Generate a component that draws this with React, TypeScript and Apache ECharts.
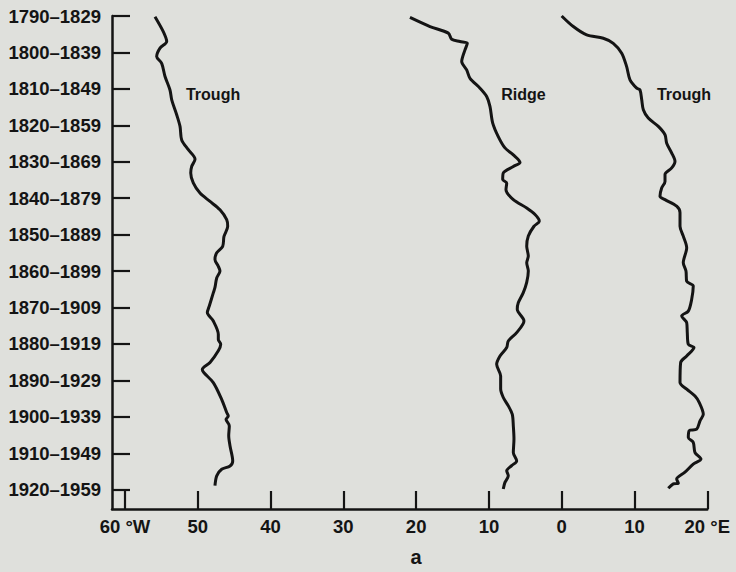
import React, { useEffect, useRef } from "react";
import * as echarts from "echarts";

const periods = [
  "1790–1829", "1800–1839", "1810–1849", "1820–1859", "1830–1869",
  "1840–1879", "1850–1889", "1860–1899", "1870–1909", "1880–1919",
  "1890–1929", "1900–1939", "1910–1949", "1920–1959",
];

const lonTicks = [-60, -50, -40, -30, -20, -10, 0, 10, 20];

// [longitude (negative = W, positive = E), position along period axis]
const westTrough: [number, number][] = [
  [-55.88, 0.02], [-54.74, 0.43], [-54.27, 0.7], [-55.19, 0.88], [-55.65, 1.11],
  [-54.96, 1.3], [-54.5, 1.66], [-53.82, 2.03], [-53.58, 2.3], [-52.9, 2.71],
  [-52.44, 3.03], [-52.21, 3.4], [-51.3, 3.67], [-50.38, 3.93], [-50.84, 4.13],
  [-50.97, 4.31], [-50.62, 4.58], [-49.7, 4.86], [-48.32, 5.09], [-46.95, 5.32],
  [-46.03, 5.59], [-45.89, 5.77], [-46.4, 6.05], [-46.58, 6.32], [-47.4, 6.5],
  [-47.64, 6.68], [-47.18, 6.87], [-46.95, 7.0], [-47.4, 7.19], [-47.64, 7.45],
  [-47.87, 7.6], [-48.42, 7.96], [-48.69, 8.14], [-47.87, 8.37], [-47.18, 8.74],
  [-47.18, 8.88], [-46.85, 9.01], [-47.18, 9.19], [-48.32, 9.51], [-49.38, 9.7],
  [-49.15, 9.79], [-47.87, 10.06], [-46.72, 10.52], [-46.03, 10.88], [-45.81, 10.98],
  [-46.12, 11.07], [-45.67, 11.25], [-45.75, 11.52], [-45.57, 11.8], [-45.2, 12.21],
  [-45.57, 12.35], [-46.72, 12.44], [-47.4, 12.62], [-47.64, 12.89],
];

const ridge: [number, number][] = [
  [-20.85, 0.04], [-18.1, 0.29], [-15.58, 0.47], [-15.12, 0.64], [-13.98, 0.7],
  [-12.97, 0.75], [-13.29, 0.93], [-13.74, 1.25], [-13.06, 1.48], [-12.6, 1.71],
  [-11.23, 1.98], [-10.31, 2.21], [-9.86, 2.48], [-9.48, 2.94], [-8.72, 3.31],
  [-7.8, 3.62], [-6.65, 3.81], [-5.73, 4.02], [-6.65, 4.13], [-8.03, 4.31],
  [-8.11, 4.49], [-7.56, 4.58], [-7.66, 4.77], [-6.65, 5.04], [-4.81, 5.27],
  [-3.67, 5.45], [-3.08, 5.63], [-3.81, 5.77], [-4.59, 6.04], [-4.81, 6.32],
  [-4.59, 6.59], [-4.81, 6.77], [-4.59, 7.0], [-4.81, 7.31], [-5.28, 7.59],
  [-5.97, 7.87], [-6.11, 8.05], [-5.19, 8.37], [-6.19, 8.69], [-7.34, 8.92],
  [-7.56, 9.1], [-8.48, 9.33], [-8.94, 9.56], [-8.39, 9.88], [-8.39, 10.24],
  [-8.03, 10.47], [-7.34, 10.7], [-6.79, 10.93], [-6.65, 11.25], [-6.56, 11.61],
  [-6.65, 11.98], [-6.19, 12.21], [-6.88, 12.34], [-7.56, 12.48], [-7.34, 12.62],
  [-7.8, 12.8], [-8.03, 12.98],
];

const eastTrough: [number, number][] = [
  [-0.01, 0.0], [1.59, 0.29], [3.43, 0.52], [5.71, 0.61], [7.08, 0.75],
  [8.24, 1.02], [8.92, 1.39], [9.38, 1.75], [10.3, 1.98], [10.75, 2.03],
  [10.99, 2.3], [11.21, 2.57], [11.89, 2.8], [13.27, 3.03], [14.19, 3.26],
  [14.42, 3.49], [15.11, 3.76], [15.56, 3.99], [15.11, 4.17], [14.19, 4.35],
  [14.19, 4.54], [13.73, 4.72], [13.5, 4.95], [14.19, 5.04], [15.79, 5.22],
  [16.25, 5.4], [16.25, 5.77], [16.7, 6.04], [17.17, 6.36], [16.7, 6.77],
  [17.07, 7.0], [17.17, 7.28], [18.07, 7.41], [17.85, 7.78], [17.39, 8.1],
  [16.48, 8.23], [17.17, 8.42], [17.25, 8.69], [17.39, 9.01], [18.17, 9.1],
  [17.17, 9.33], [16.34, 9.51], [16.25, 10.06], [17.17, 10.24], [18.31, 10.43],
  [18.9, 10.61], [19.45, 10.93], [19.0, 11.11], [18.54, 11.34], [17.52, 11.38],
  [17.39, 11.57], [18.07, 11.7], [18.31, 11.98], [19.13, 12.16], [18.07, 12.3],
  [16.93, 12.52], [15.79, 12.71], [16.02, 12.82], [15.33, 12.84], [14.64, 12.96],
];

const labelTexts = ["Trough", "Ridge", "Trough"];
const labelCoords: [number, number][] = [[-47.9, 2.16], [-5.25, 2.16], [16.8, 2.16]];

const INK = "#141414";
const FONT = "'Liberation Sans', Arial, Helvetica, sans-serif";

function lonLabel(v: number): string {
  if (v === -60) return "60 °W";
  if (v === 20) return "20 °E";
  return String(Math.abs(v));
}

export default function App() {
  const ref = useRef<HTMLDivElement>(null);

  useEffect(() => {
    if (!ref.current) return;
    const chart = echarts.init(ref.current, undefined, { renderer: "svg" });
    const seriesList = [westTrough, ridge, eastTrough];
    chart.setOption({
      animation: false,
      backgroundColor: "#dfe0dc",
      grid: { left: 112, right: 28.7, top: 16, bottom: 62, containLabel: false },
      xAxis: {
        type: "value",
        position: "bottom",
        min: -61.786,
        max: 20,
        name: "a",
        nameLocation: "middle",
        nameGap: 38,
        nameTextStyle: { fontFamily: FONT, fontSize: 20, fontWeight: "bold", color: INK, padding: [0, 0, 0, 13] },
        splitLine: { show: false },
        axisLine: { show: true, onZero: false, lineStyle: { color: INK, width: 2.5 } },
        axisTick: { show: true, inside: true, length: 18, customValues: lonTicks, lineStyle: { color: INK, width: 2.2 } },
        axisLabel: {
          customValues: lonTicks,
          formatter: (v: number) => lonLabel(v),
          fontFamily: FONT, fontSize: 18.5, fontWeight: "bold", color: INK, margin: 8,
        },
      },
      yAxis: {
        type: "value",
        position: "left",
        inverse: true,
        min: 0,
        max: 13.53,
        splitLine: { show: false },
        axisLine: { show: true, onZero: false, lineStyle: { color: INK, width: 2.5 } },
        axisTick: { show: true, inside: true, length: 18, customValues: periods.map((_, i) => i), lineStyle: { color: INK, width: 2.2 } },
        axisLabel: {
          customValues: periods.map((_, i) => i),
          formatter: (v: number) => periods[Math.round(v)] ?? "",
          fontFamily: FONT, fontSize: 18.5, fontWeight: "bold", color: INK, margin: 11,
          padding: [5, 0, 0, 0],
        },
      },
      series: seriesList.map((d, i) => ({
        type: "line",
        data: d,
        showSymbol: false,
        smooth: 0.3,
        lineStyle: { color: INK, width: 3 },
        markPoint: {
          symbol: "circle",
          symbolSize: 1,
          itemStyle: { color: "rgba(0,0,0,0)" },
          label: {
            show: true, position: "inside", formatter: labelTexts[i],
            fontFamily: FONT, fontSize: 16, fontWeight: "bold", color: INK,
          },
          data: [{ coord: labelCoords[i] }],
        },
      })),
    });
    return () => chart.dispose();
  }, []);

  return (
    <div
      ref={ref}
      style={{ position: "fixed", left: 0, top: 0, width: 736, height: 572, background: "#dfe0dc" }}
    />
  );
}
